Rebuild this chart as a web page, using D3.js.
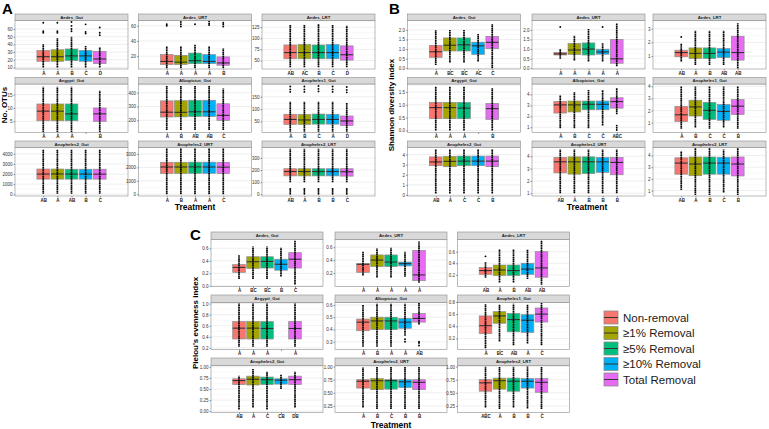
<!DOCTYPE html>
<html><head><meta charset="utf-8">
<script src="https://cdn.jsdelivr.net/npm/d3@7"></script>
<style>body{margin:0;background:#fff}</style>
</head><body>
<script>
const treatments = ["Non-removal","≥1% Removal","≥5% Removal","≥10% Removal","Total Removal"];
const treatmentColors = ["#F8766D","#A3A500","#00BF7D","#00B0F6","#E76BF3"];
const facetNames = ["Aedes_Gut","Aedes_URT","Aedes_LRT","Aegypti_Gut","Albopictus_Gut","Anopheles1_Gut","Anopheles2_Gut","Anopheles2_URT","Anopheles2_LRT"];

// ---------- Panel A: No. OTUs ----------
const otuTickLabels = [["10","20","30","40","50","60"],["20","40","60"],["50","75","100","125"],["5","10","15"],["200","300","400"],["50","100","150"],["0","1000","2000","3000","4000"],["0","1000","2000","3000"],["0","100","200","300"]];
const otuDomains = [[8,71],[3,67],[31,140],[0.8,19],[112,463],[5,202],[-170,4630],[-128,3481],[-14,386]];
// [lower whisker, Q1, median, Q3, upper whisker]
const otuStats = [
 [[10,18,24,32,40],[10,18,24,33,48],[10,19,25,34,50],[10,18,25,32,38],[10,15,21,31,36]],
 [[4,9,13,22,33],[4,9,12,21,33],[4,10,14,24,35],[4,10,13,22,33],[4,8,11,19,30]],
 [[35,54,68,85,130],[35,54,68,86,130],[35,54,68,85,132],[35,54,68,86,130],[35,51,63,83,128]],
 [[1,5.2,8.8,11.5,18],[1,5.2,8.8,11.5,18],[1,5.2,7.8,11.5,18],null,[1,5,7.8,10,16.5]],
 [[130,224,259,341,450],[130,225,258,342,450],[130,228,262,345,450],[130,228,262,345,450],[130,200,236,320,430]],
 [[8,38,58,79,130],[8,38,56,78,130],[8,39,58,80,130],[8,39,58,79,130],[8,33,52,72,125]],
 [[50,1500,2000,2500,4400],[50,1500,2010,2500,4400],[50,1500,2000,2480,4400],[50,1500,2000,2480,4400],[50,1500,1990,2480,4400]],
 [[0,1550,2030,2380,3400],[0,1550,2030,2380,3400],[0,1560,2040,2390,3400],[0,1560,2030,2390,3400],[0,1540,2020,2380,3400]],
 [[100,152,188,211,375],[100,152,188,211,375],[100,152,188,211,375],[100,152,188,211,375],[100,150,186,211,375]]
];
const otuOutliers = [
 [[55,57,68],[55,57,68],[57,60,64,69],[54,56,66],[52,55,62]],
 [[60,62],[59,62,65],[62],[61,63,66],[59,62,64]],
 [[],[],[],[],[]],
 [[],[],[],[],[]],
 [[],[],[],[],[]],
 [[170,180,192],[170,180,192],[172,182,194],[170,180,192],[168,178,190]],
 [[],[],[],[],[]],
 [[],[],[],[],[]],
 [[5,20,35,45],[5,20,35,45],[5,20,35,45],[5,20,35,45],[5,20,35,45]]
];
const otuLetters = [["A","A","B","C","D"],["A","A","A","A","B"],["AB","AC","B","C","D"],["A","A","A","","B"],["A","B","AB","AB","C"],["A","B","C","A","D"],["AB","A","AB","B","C"],["A","B","A","A","C"],["AB","A","B","B","C"]];

// ---------- Panel B: Shannon diversity index ----------
const shanTickLabels = [["0.0","0.5","1.0","1.5","2.0"],["0.0","0.5","1.0","1.5","2.0"],["1","2","3"],["0.0","0.5","1.0","1.5"],["1","2","3","4"],["1","2","3","4"],["0","1","2","3","4"],["1","2","3","4"],["1","2","3","4"]];
const shanDomains = [[-0.04,2.49],[-0.04,2.49],[0.06,3.6],[-0.08,1.81],[0.52,4.96],[0.19,4.19],[-0.1,4.7],[0.78,4.71],[0.54,4.68]];
const shanStats = [
 [[0.17,0.57,0.86,1.19,2.0],[0.3,0.9,1.2,1.58,2.0],[0.3,0.9,1.22,1.58,2.0],[0.35,0.72,1.17,1.36,1.8],[0.0,1.02,1.35,1.66,2.3]],
 [[0.5,0.69,0.75,0.82,1.0],[0.4,0.72,0.95,1.29,1.7],[0.35,0.69,1.0,1.32,2.05],[0.35,0.73,0.85,0.99,1.3],[0.1,0.26,0.49,1.5,2.35]],
 [[0.6,0.95,1.26,1.43,1.9],[0.35,0.83,1.2,1.6,2.85],[0.35,0.83,1.2,1.6,2.85],[0.35,0.9,1.29,1.55,2.85],[0.1,0.71,1.26,2.45,3.4]],
 [[0.0,0.46,0.89,1.09,1.7],[0.0,0.46,0.89,1.09,1.7],[0.0,0.46,0.87,1.09,1.7],null,[0.0,0.43,0.85,1.05,1.65]],
 [[0.9,2.3,3.05,3.35,3.9],[0.9,2.4,3.05,3.4,4.2],[0.9,2.6,3.1,3.4,4.4],[1.17,2.6,3.1,3.4,4.4],[2.2,2.75,3.35,3.7,4.6]],
 [[0.5,1.1,1.65,2.35,4.0],[0.6,1.55,2.3,2.85,4.0],[0.5,1.27,2.02,2.67,4.0],[0.6,1.2,1.93,2.5,4.0],[0.5,1.67,2.36,2.9,4.0]],
 [[0.15,2.9,3.27,3.77,4.5],[0.15,2.8,3.33,3.83,4.5],[0.15,2.9,3.35,3.85,4.5],[0.15,2.9,3.35,3.85,4.5],[0.15,2.8,3.35,3.85,4.5]],
 [[1.0,2.65,3.55,3.9,4.55],[1.0,2.55,3.55,3.95,4.55],[1.0,2.6,3.55,3.95,4.55],[1.0,2.7,3.55,3.9,4.55],[1.0,2.5,3.5,3.9,4.55]],
 [[1.06,2.4,3.35,3.8,4.36],[0.63,2.27,3.27,3.87,4.65],[0.63,2.4,3.35,3.87,4.65],[0.83,2.4,3.35,3.85,4.5],[0.63,2.25,3.27,3.87,4.65]]
];
const shanOutliers = [
 [[],[],[],[],[]],
 [[2.15],[],[],[2.15],[]],
 [[2.4],[],[],[],[]],
 [[],[],[],[],[]],
 [[],[],[],[],[0.75,0.95,1.15]],
 [[],[],[],[],[]],
 [[],[],[],[],[]],
 [[],[],[],[],[]],
 [[],[],[],[],[]]
];
const shanLetters = [["A","BC","BC","AC","C"],["A","A","A","A","A"],["AB","A","B","AB","AB"],["A","A","A","","B"],["A","B","C","C","ABC"],["A","B","C","C","B"],["AB","A","C","C","B"],["AB","A","B","B","B"],["AB","A","B","C","B"]];

// ---------- Panel C: Pielou's evenness index ----------
const pielTickLabels = [["0.0","0.2","0.4","0.6"],["0.2","0.4","0.6"],["0.2","0.4","0.6"],["0.2","0.4","0.6","0.8","1.0"],["0.3","0.4","0.5","0.6"],["0.2","0.4","0.6","0.8"],["0.00","0.25","0.50","0.75","1.00"],["0.25","0.50","0.75","1.00"],["0.25","0.50","0.75","1.00"]];
const pielDomains = [[-0.01,0.74],[-0.01,0.72],[0.0,0.81],[0.17,1.02],[0.237,0.62],[0.02,0.79],[-0.03,1.03],[0.125,1.02],[0.125,1.02]];
const pielStats = [
 [[0.11,0.216,0.295,0.34,0.49],[0.11,0.28,0.385,0.465,0.63],[0.11,0.285,0.39,0.465,0.63],[0.15,0.25,0.345,0.425,0.61],[0.02,0.285,0.425,0.53,0.72]],
 [[0.16,0.21,0.335,0.345,0.53],[0.13,0.3,0.4,0.48,0.58],[0.13,0.3,0.37,0.48,0.59],[0.14,0.31,0.345,0.37,0.53],[0.05,0.08,0.17,0.55,0.69]],
 [[0.15,0.21,0.275,0.325,0.42],[0.07,0.19,0.285,0.37,0.64],[0.07,0.19,0.275,0.37,0.64],[0.13,0.21,0.3,0.4,0.64],[0.03,0.16,0.32,0.6,0.79]],
 [[0.22,0.36,0.556,0.675,1.0],[0.22,0.36,0.556,0.675,1.0],[0.22,0.36,0.55,0.675,1.0],null,[0.22,0.36,0.55,0.675,1.0]],
 [[0.26,0.39,0.46,0.485,0.6],[0.26,0.4,0.47,0.5,0.61],[0.26,0.4,0.47,0.5,0.61],[0.35,0.41,0.46,0.49,0.61],[0.44,0.46,0.49,0.53,0.62]],
 [[0.04,0.28,0.41,0.57,0.76],[0.15,0.45,0.57,0.64,0.76],[0.09,0.31,0.51,0.61,0.77],[0.12,0.3,0.5,0.59,0.76],[0.09,0.47,0.6,0.7,0.78]],
 [[0.04,0.6,0.69,0.73,0.8],[0.08,0.59,0.72,0.79,0.95],[0.04,0.6,0.71,0.77,0.89],[0.5,0.61,0.7,0.73,0.82],[0.08,0.6,0.71,0.79,0.89]],
 [[0.22,0.59,0.72,0.75,0.98],[0.19,0.56,0.73,0.77,1.0],[0.19,0.57,0.73,0.75,1.0],[0.19,0.6,0.71,0.75,1.0],[0.19,0.56,0.7,0.75,1.0]],
 [[0.22,0.53,0.69,0.75,1.0],[0.19,0.57,0.73,0.78,1.0],[0.22,0.53,0.72,0.78,1.0],[0.2,0.59,0.72,0.77,1.0],[0.19,0.51,0.7,0.77,1.0]]
];
const pielOutliers = [
 [[],[],[],[],[]],
 [[],[],[],[],[]],
 [[0.52],[],[],[],[]],
 [[],[],[],[],[]],
 [[],[],[],[0.3,0.32],[0.27,0.29,0.3]],
 [[],[],[],[],[]],
 [[],[],[],[],[]],
 [[],[],[],[],[]],
 [[],[],[],[],[]]
];
const pielLetters = [["A","BC","BC","B","C"],["A","A","A","A","A"],["AB","A","B","AB","AB"],["A","A","A","","A"],["A","B","A","A","AB"],["A","BC","AB","A","C"],["AB","A","C","CB","DB"],["A","B","C","B","B"],["ABC","A","B","B","C"]];

// ---------- drawing ----------
const W = 769, H = 429;
const FONT = "Arial, 'Liberation Sans', Helvetica, sans-serif";
const svg = d3.select("body").append("svg").attr("width", W).attr("height", H)
  .style("font-family", FONT);
svg.append("rect").attr("width", W).attr("height", H).attr("fill", "#fff");

function drawPanel(cfg) {
  const g = svg.append("g");
  facetNames.forEach((name, i) => {
    const c = i % 3, r = Math.floor(i / 3);
    const x0 = cfg.colX[c], x1 = x0 + cfg.colW;
    const st = cfg.rowTop[r], pt = st + cfg.stripH, pb = pt + cfg.plotH;
    const x = d3.scalePoint().domain(treatments).range([x0, x1]).padding(2);
    const y = d3.scaleLinear().domain(cfg.domains[i]).range([pb, pt]);
    const tickVals = cfg.tickLabels[i].map(Number);
    const fg = g.append("g");
    fg.append("rect").attr("x", x0).attr("y", pt).attr("width", cfg.colW).attr("height", cfg.plotH).attr("fill", "#fff");
    const minors = [];
    const stepT = tickVals[1] - tickVals[0];
    for (let k = -1; k < tickVals.length; k++) {
      const v = (k < 0 ? tickVals[0] - stepT / 2 : tickVals[k] + stepT / 2);
      if (v > cfg.domains[i][0] && v < cfg.domains[i][1]) minors.push(v);
    }
    fg.selectAll(".mn").data(minors).join("line")
      .attr("x1", x0).attr("x2", x1).attr("y1", d => y(d)).attr("y2", d => y(d))
      .attr("stroke", "#F0F0F0").attr("stroke-width", 0.4);
    fg.selectAll(".mj").data(tickVals).join("line")
      .attr("x1", x0).attr("x2", x1).attr("y1", d => y(d)).attr("y2", d => y(d))
      .attr("stroke", "#E3E3E3").attr("stroke-width", 0.6);
    const bw = x.step() * 0.9;
    treatments.forEach((t, j) => {
      const s = cfg.stats[i][j];
      if (!s) return;
      const cx = x(t);
      fg.append("rect").attr("x", cx - bw / 2).attr("y", y(s[3]))
        .attr("width", bw).attr("height", y(s[1]) - y(s[3]))
        .attr("fill", treatmentColors[j]).attr("stroke", "#8C8C8C").attr("stroke-width", 0.7);
      fg.append("line").attr("x1", cx - bw / 2).attr("x2", cx + bw / 2)
        .attr("y1", y(s[2])).attr("y2", y(s[2])).attr("stroke", "#333").attr("stroke-width", 1.1);
    });
    treatments.forEach((t, j) => {
      const s = cfg.stats[i][j];
      if (!s) return;
      const cx = x(t);
      fg.append("line").attr("x1", cx).attr("x2", cx).attr("y1", y(s[0])).attr("y2", y(s[4]))
        .attr("stroke", "#000").attr("stroke-width", 1.7).attr("stroke-dasharray", "1.5,0.35");
      fg.selectAll(null).data(cfg.outliers[i][j]).join("circle")
        .attr("cx", cx).attr("cy", d => y(d)).attr("r", 0.95).attr("fill", "#000");
    });
    fg.append("rect").attr("x", x0).attr("y", pt).attr("width", cfg.colW).attr("height", cfg.plotH)
      .attr("fill", "none").attr("stroke", "#8C8C8C").attr("stroke-width", 0.6);
    fg.append("rect").attr("x", x0).attr("y", st).attr("width", cfg.colW).attr("height", cfg.stripH)
      .attr("fill", "#D9D9D9").attr("stroke", "#8C8C8C").attr("stroke-width", 0.6);
    fg.append("text").attr("x", (x0 + x1) / 2).attr("y", st + cfg.stripH / 2 + 1.5)
      .attr("text-anchor", "middle").attr("font-size", cfg.stripFont).attr("font-weight", "bold")
      .attr("fill", "#1A1A1A").text(name);
    const ya = fg.append("g").attr("transform", `translate(${x0},0)`)
      .call(d3.axisLeft(y).tickValues(tickVals).tickSize(1.5).tickPadding(1)
        .tickFormat((d, k) => cfg.tickLabels[i][k]));
    ya.select(".domain").remove();
    ya.selectAll("line").attr("stroke", "#333").attr("stroke-width", 0.5);
    ya.selectAll("text").attr("font-size", cfg.tickFont).attr("fill", "#333").attr("font-family", FONT);
    const xa = fg.append("g").attr("transform", `translate(0,${pb})`)
      .call(d3.axisBottom(x).tickSize(1.5).tickPadding(1.2)
        .tickFormat((d, k) => cfg.letters[i][k]));
    xa.select(".domain").remove();
    xa.selectAll("line").attr("stroke", "#333").attr("stroke-width", 0.5);
    xa.selectAll("text").attr("font-size", cfg.tickFont).attr("font-weight", "bold")
      .attr("fill", "#1A1A1A").attr("font-family", FONT);
  });
  g.append("text").attr("x", cfg.title[1]).attr("y", cfg.title[2]).attr("font-size", 15)
    .attr("font-weight", "bold").text(cfg.title[0]);
  g.append("text").attr("transform", `translate(${cfg.ylab[1]},${cfg.ylab[2]}) rotate(-90)`)
    .attr("text-anchor", "middle").attr("font-size", 8).attr("font-weight", "bold").text(cfg.ylab[0]);
  g.append("text").attr("x", cfg.xlab[0]).attr("y", cfg.xlab[1])
    .attr("text-anchor", "middle").attr("font-size", 8.5).attr("font-weight", "bold").text("Treatment");
}

drawPanel({colX: [15, 138.5, 262], colW: 113, rowTop: [14, 77.5, 141], stripH: 6.5, plotH: 48.5,
  stripFont: 4.3, tickFont: 4.5,
  tickLabels: otuTickLabels, domains: otuDomains, stats: otuStats, outliers: otuOutliers, letters: otuLetters,
  title: ["A", 2, 14], ylab: ["No. OTUs", 7, 105], xlab: [195, 210]});
drawPanel({colX: [407.5, 532, 653], colW: 113, rowTop: [14, 77.5, 141], stripH: 6.5, plotH: 48.5,
  stripFont: 4.3, tickFont: 4.5,
  tickLabels: shanTickLabels, domains: shanDomains, stats: shanStats, outliers: shanOutliers, letters: shanLetters,
  title: ["B", 389, 14], ylab: ["Shannon diversity index", 394, 105], xlab: [587, 210]});
drawPanel({colX: [211, 335, 457.5], colW: 112, rowTop: [232, 295, 358], stripH: 7.5, plotH: 47,
  stripFont: 4.3, tickFont: 4.5,
  tickLabels: pielTickLabels, domains: pielDomains, stats: pielStats, outliers: pielOutliers, letters: pielLetters,
  title: ["C", 190, 240], ylab: ["Pielou's evenness index", 198, 323], xlab: [391, 428]});

const lg = svg.append("g").attr("transform", "translate(604,311)");
treatments.forEach((t, j) => {
  const gy = j * 15.5;
  lg.append("rect").attr("x", 0).attr("y", gy).attr("width", 14).attr("height", 13)
    .attr("fill", treatmentColors[j]).attr("stroke", "#8C8C8C").attr("stroke-width", 0.8);
  lg.append("line").attr("x1", 0).attr("x2", 14).attr("y1", gy + 6.5).attr("y2", gy + 6.5)
    .attr("stroke", "#333").attr("stroke-width", 1);
  lg.append("text").attr("x", 19).attr("y", gy + 10.5).attr("font-size", 11.5).attr("fill", "#1A1A1A").text(t);
});
</script>
</body></html>
